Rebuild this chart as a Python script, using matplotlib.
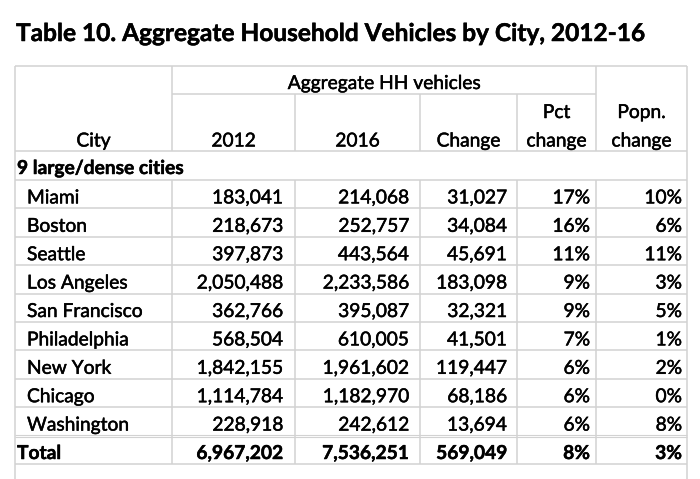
import matplotlib
matplotlib.use('Agg')
import matplotlib.pyplot as plt
from matplotlib.lines import Line2D
import matplotlib.patheffects as pe

# ---------------- data ----------------
title = "Table 10. Aggregate Household Vehicles by City, 2012-16"
group_header = "Aggregate HH vehicles"
col_headers = ["City", "2012", "2016", "Change"]
pct_header = ["Pct", "change"]
popn_header = ["Popn.", "change"]
section_label = "9 large/dense cities"

cities = ["Miami", "Boston", "Seattle", "Los Angeles", "San Francisco",
          "Philadelphia", "New York", "Chicago", "Washington"]
veh_2012 = [183041, 218673, 397873, 2050488, 362766, 568504, 1842155, 1114784, 228918]
veh_2016 = [214068, 252757, 443564, 2233586, 395087, 610005, 1961602, 1182970, 242612]
veh_change = [31027, 34084, 45691, 183098, 32321, 41501, 119447, 68186, 13694]
pct_change = [17, 16, 11, 9, 9, 7, 6, 6, 6]
popn_change = [10, 6, 11, 3, 5, 1, 2, 0, 8]

total_label = "Total"
total_2012 = 6967202
total_2016 = 7536251
total_change = 569049
total_pct = 8
total_popn = 3

# ---------------- layout (pixels) ----------------
W, H = 700, 479
FONT = ["Lato", "DejaVu Sans"]
LINE_C = "#d2d2d2"
LW = 1.1

col_x = [15, 172, 295, 420, 517, 596, 687]
y_top = 66
y_group = 94
y_head = 151
y_section = 180
row_h = (464 - 180) / 10.0
row_bottoms = [y_section + row_h * (i + 1) for i in range(len(cities) + 1)]
y_total_top = row_bottoms[-2]
y_total_bot = row_bottoms[-1]

right_edges = [283, 409, 507, 590, 682]

fig = plt.figure(figsize=(W / 100, H / 100), dpi=100)
ax = fig.add_axes([0, 0, 1, 1])
ax.set_xlim(0, W)
ax.set_ylim(H, 0)
ax.axis('off')


def hline(y, x0, x1, lw=LW):
    ax.add_line(Line2D([x0, x1], [y, y], color=LINE_C, lw=lw, solid_capstyle='butt'))


def vline(x, y0, y1, lw=LW):
    ax.add_line(Line2D([x, x], [y0, y1], color=LINE_C, lw=lw, solid_capstyle='butt'))


# grid lines
hline(y_top, col_x[0], col_x[-1])
hline(y_group, col_x[1], col_x[5])
hline(y_head, col_x[0], col_x[-1])
hline(y_section, col_x[0], col_x[-1])
for i, yb in enumerate(row_bottoms):
    if i == len(row_bottoms) - 2:
        hline(yb - 0.9, col_x[0], col_x[-1], lw=0.8)
        hline(yb + 0.9, col_x[0], col_x[-1], lw=0.8)
    else:
        hline(yb, col_x[0], col_x[-1])

vline(col_x[0], y_top, H)
vline(col_x[-1], y_top, H)
vline(col_x[1], y_top, y_head)
vline(col_x[1], y_section, y_total_bot)
for x in col_x[2:5]:
    vline(x, y_group, y_head)
    vline(x, y_section, y_total_bot)
vline(col_x[5], y_top, y_head)
vline(col_x[5], y_section, y_total_bot)

BODY = 13.8
STROKE = [pe.withStroke(linewidth=0.35, foreground='black')]


def txt(x, y, s, ha='left', bold=False, size=BODY):
    return ax.text(x, y, s, ha=ha, va='baseline', fontsize=size,
                   fontweight='bold' if bold else 'normal', family=FONT, color='black',
                   path_effects=STROKE)


# title
t = txt(16, 41, title, bold=True, size=18)
fig.canvas.draw()
r = fig.canvas.get_renderer()
bb = t.get_window_extent(r)
t.set_fontsize(18 * 630.0 / bb.width)

# headers
centers = [(col_x[i] + col_x[i + 1]) / 2 for i in range(6)]
txt((col_x[1] + col_x[5]) / 2, 89, group_header, ha='center')
for i, h in enumerate(col_headers):
    txt(centers[i], 146.5, h, ha='center')
txt(centers[4], 118, pct_header[0], ha='center')
txt(centers[4], 146.5, pct_header[1], ha='center')
txt(centers[5], 118, popn_header[0], ha='center')
txt(centers[5], 146.5, popn_header[1], ha='center')

txt(17, y_section - 6, section_label, bold=True)

for i, c in enumerate(cities):
    yb = row_bottoms[i] - 5
    txt(27, yb, c)
    txt(right_edges[0], yb, f"{veh_2012[i]:,}", ha='right')
    txt(right_edges[1], yb, f"{veh_2016[i]:,}", ha='right')
    txt(right_edges[2], yb, f"{veh_change[i]:,}", ha='right')
    txt(right_edges[3], yb, f"{pct_change[i]}%", ha='right')
    txt(right_edges[4], yb, f"{popn_change[i]}%", ha='right')

yb = y_total_bot - 5
txt(17, yb, total_label, bold=True)
txt(right_edges[0], yb, f"{total_2012:,}", ha='right', bold=True)
txt(right_edges[1], yb, f"{total_2016:,}", ha='right', bold=True)
txt(right_edges[2], yb, f"{total_change:,}", ha='right', bold=True)
txt(right_edges[3], yb, f"{total_pct}%", ha='right', bold=True)
txt(right_edges[4], yb, f"{total_popn}%", ha='right', bold=True)

fig.savefig("out.png", dpi=100, facecolor='white')
